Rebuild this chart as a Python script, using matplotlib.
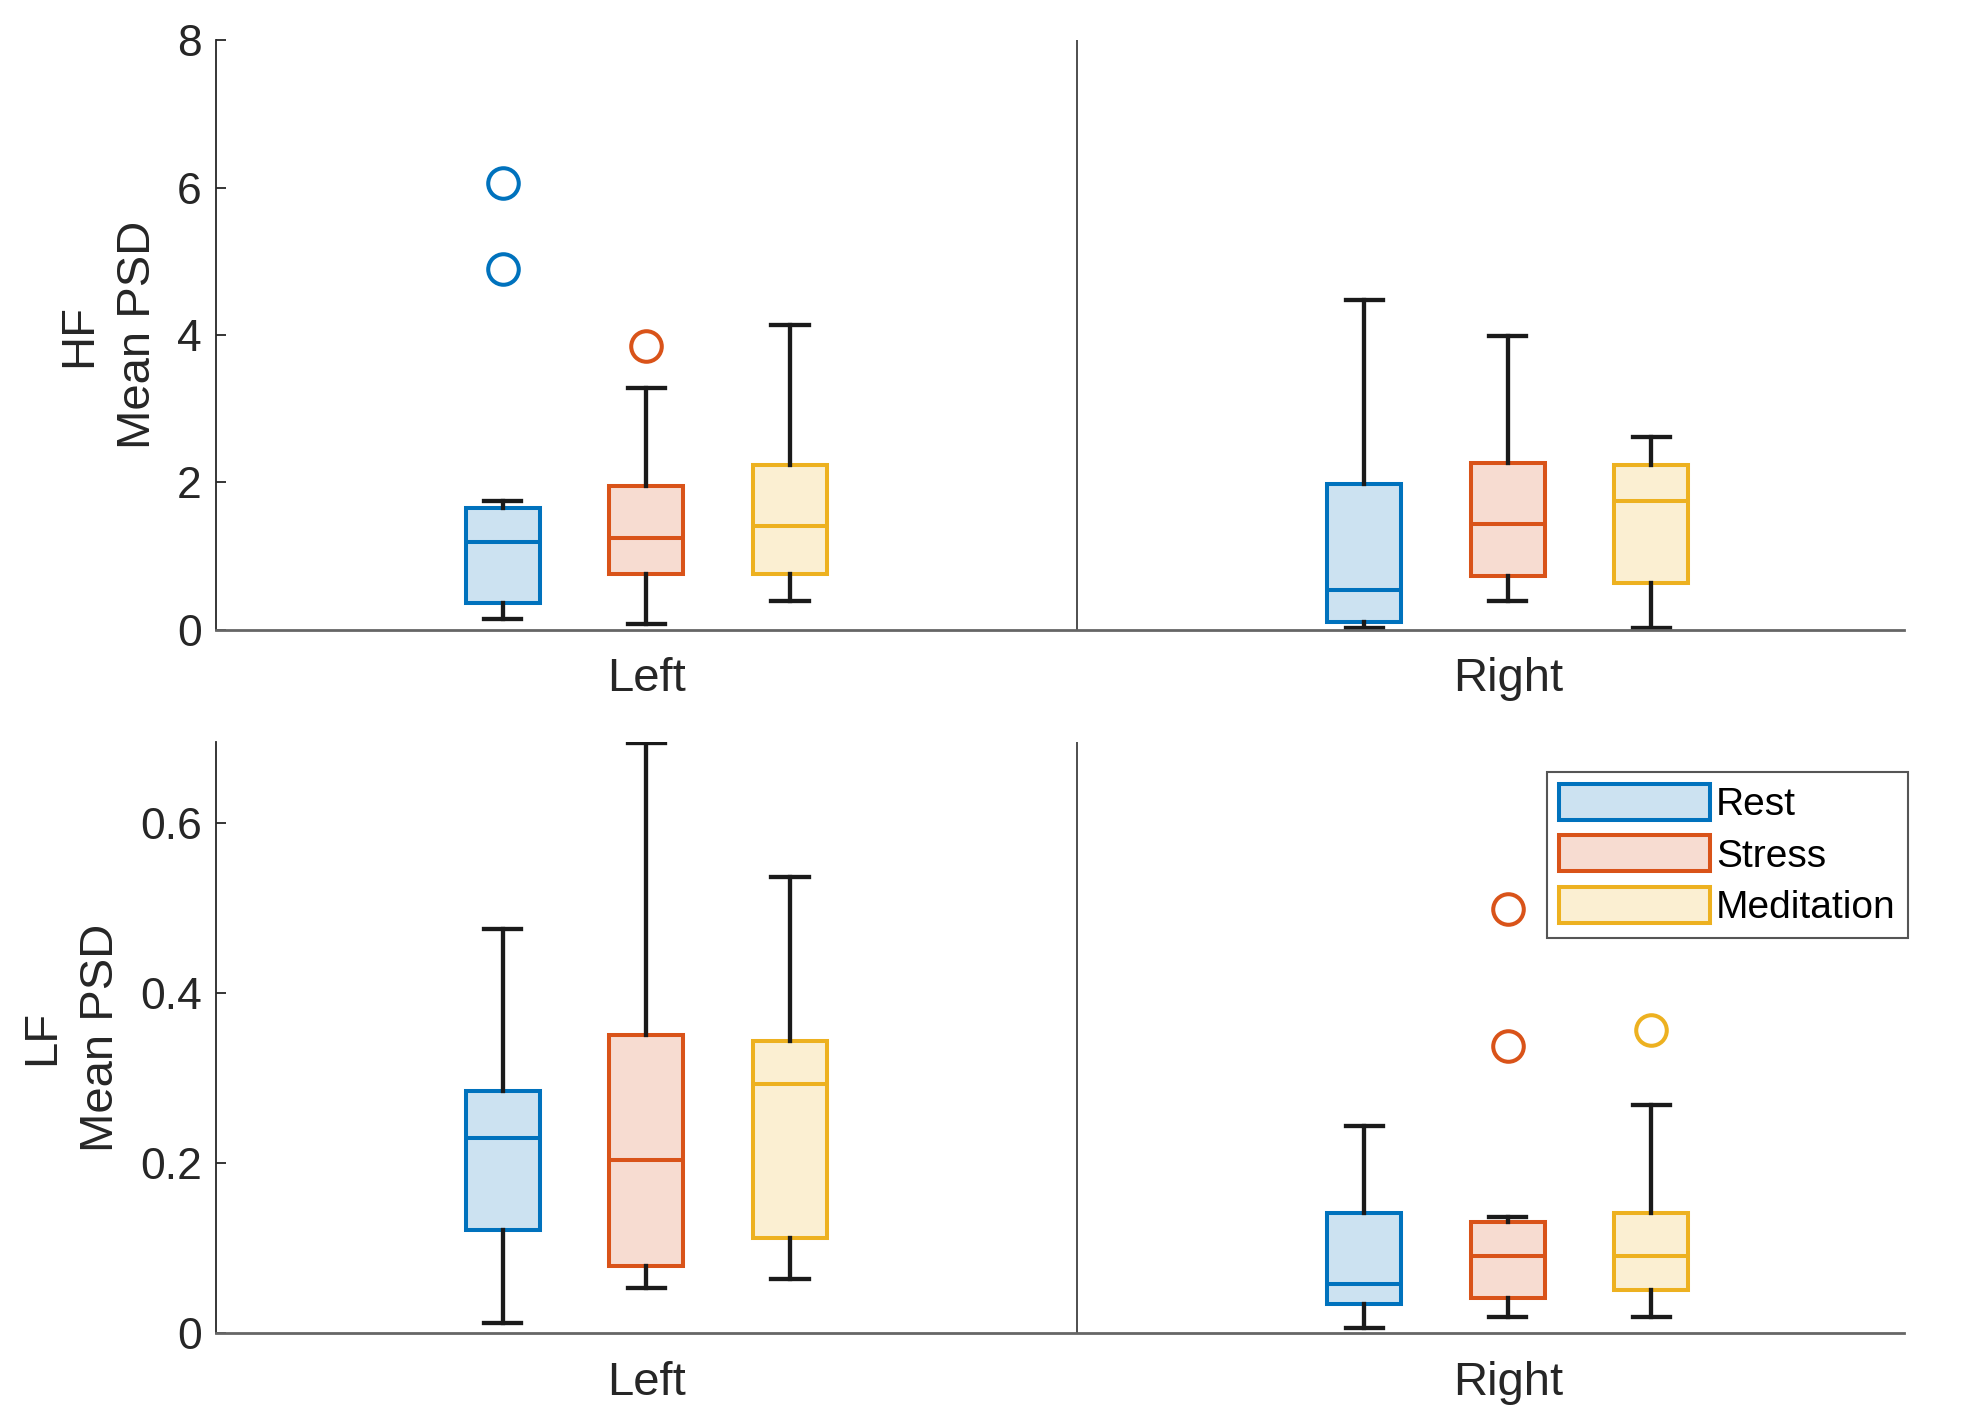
import matplotlib.pyplot as plt
from matplotlib.patches import Patch

plt.rcParams['font.family'] = ['Liberation Sans', 'DejaVu Sans']

groups = ['Left', 'Right']
conditions = ['Rest', 'Stress', 'Meditation']
colors = ['#0072BD', '#D95319', '#EDB120']

# box stats: [whislo, q1, med, q3, whishi]
hf_left = [[0.14, 0.36, 1.19, 1.65, 1.74],
           [0.08, 0.76, 1.24, 1.95, 3.28],
           [0.39, 0.75, 1.41, 2.24, 4.14]]
hf_right = [[0.02, 0.10, 0.54, 1.97, 4.48],
            [0.39, 0.73, 1.43, 2.26, 3.99],
            [0.02, 0.63, 1.75, 2.24, 2.61]]
hf_left_out = [[6.06, 4.89], [3.85], []]
hf_right_out = [[], [], []]

lf_left = [[0.012, 0.121, 0.229, 0.285, 0.475],
           [0.053, 0.079, 0.204, 0.351, 0.694],
           [0.063, 0.112, 0.293, 0.344, 0.537]]
lf_right = [[0.006, 0.034, 0.057, 0.141, 0.244],
            [0.019, 0.041, 0.090, 0.131, 0.137],
            [0.019, 0.051, 0.090, 0.141, 0.268]]
lf_left_out = [[], [], []]
lf_right_out = [[], [0.499, 0.338], [0.357]]

panels = [
    ('HF\nMean PSD', [hf_left, hf_right], [hf_left_out, hf_right_out], (0, 8), [0, 2, 4, 6, 8], ['0', '2', '4', '6', '8']),
    ('LF\nMean PSD', [lf_left, lf_right], [lf_left_out, lf_right_out], (0, 0.695), [0, 0.2, 0.4, 0.6], ['0', '0.2', '0.4', '0.6']),
]

fig = plt.figure(figsize=(19.61, 14.21), dpi=100)
axes = [fig.add_axes([0.110, 0.557, 0.861, 0.4145]),
        fig.add_axes([0.110, 0.062, 0.861, 0.4155])]

offset = 1 / 6
box_w = 0.086
spine_col = '#262626'
lw = 2.9

for ax, (ylab, data, outs, ylim, yt, ytl) in zip(axes, panels):
    for g in range(len(groups)):
        for c in range(len(conditions)):
            s = data[g][c]
            stats = [dict(whislo=s[0], q1=s[1], med=s[2], q3=s[3], whishi=s[4],
                          fliers=outs[g][c])]
            pos = g + 1 + (c - 1) * offset
            col = colors[c]
            ax.bxp(stats, positions=[pos], widths=box_w, patch_artist=True,
                   showfliers=True,
                   boxprops=dict(facecolor=col + '33', edgecolor=col, linewidth=lw),
                   medianprops=dict(color=col, linewidth=lw),
                   whiskerprops=dict(color='#1a1a1a', linewidth=3.1),
                   capprops=dict(color='#1a1a1a', linewidth=3.1),
                   capwidths=box_w / 2,
                   flierprops=dict(marker='o', markerfacecolor='none',
                                   markeredgecolor=col, markersize=22,
                                   markeredgewidth=lw))
    ax.axvline(1.5, color='#404040', linewidth=1.3, zorder=0)
    ax.set_xlim(0.5, 2.46)
    ax.set_ylim(*ylim)
    ax.set_xticks([1, 2])
    ax.set_xticklabels(groups)
    ax.set_yticks(yt)
    ax.set_yticklabels(ytl)
    ax.tick_params(axis='x', length=0, labelsize=34, pad=20, colors=spine_col)
    ax.tick_params(axis='y', direction='in', length=7, width=1.3,
                   labelsize=32, colors=spine_col, pad=10)
    for side in ['top', 'right']:
        ax.spines[side].set_visible(False)
    ax.spines['left'].set_color(spine_col)
    ax.spines['left'].set_linewidth(1.3)
    ax.spines['bottom'].set_color('#666666')
    ax.spines['bottom'].set_linewidth(2)
    ax.set_ylabel(ylab, fontsize=34, color=spine_col, linespacing=1.45, labelpad=12)

handles = [Patch(facecolor=col + '33', edgecolor=col, linewidth=lw, label=lab)
           for col, lab in zip(colors, conditions)]
leg = axes[1].legend(handles=handles, loc='upper right', bbox_to_anchor=(1.002, 0.95),
                     fontsize=28, handlelength=3.9, handleheight=1.05,
                     handletextpad=0.15, labelspacing=0.32, borderpad=0.3,
                     borderaxespad=0,
                     fancybox=False, framealpha=1, edgecolor='#555555')
leg.get_frame().set_linewidth(1.5)

fig.savefig('out.png', dpi=100)
